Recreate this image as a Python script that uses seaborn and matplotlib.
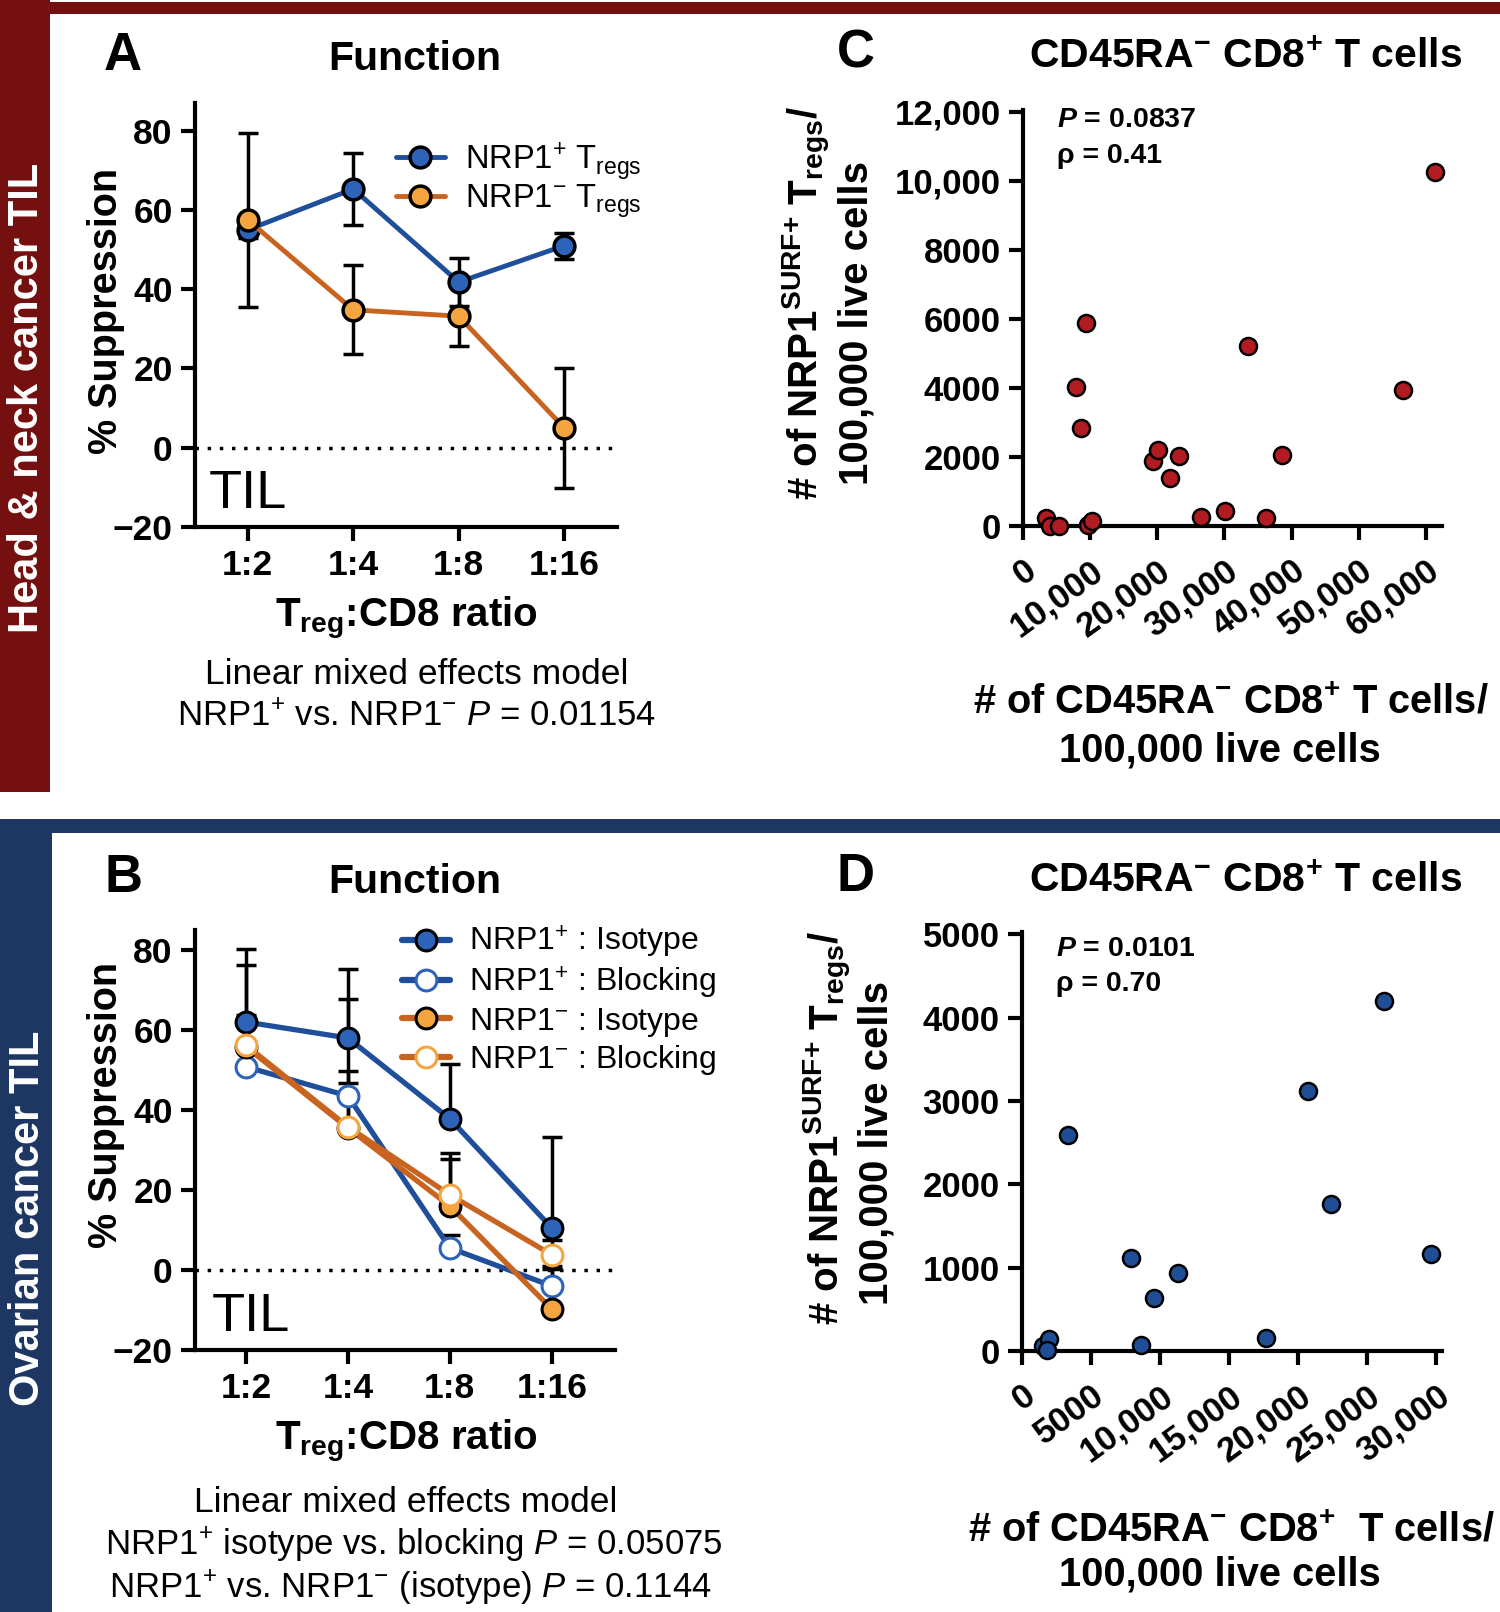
import numpy as np
import pandas as pd
import seaborn as sns
import matplotlib.pyplot as plt
from matplotlib.patches import Rectangle
from matplotlib.lines import Line2D

sns.set_theme(style="ticks")
plt.rcParams['font.family'] = ['Liberation Sans', 'DejaVu Sans']
plt.rcParams['text.color'] = 'black'
plt.rcParams['axes.labelcolor'] = 'black'
plt.rcParams['mathtext.fontset'] = 'custom'
plt.rcParams['mathtext.default'] = 'regular'
plt.rcParams['mathtext.rm'] = 'Liberation Sans'
plt.rcParams['mathtext.bf'] = 'Liberation Sans:bold'
plt.rcParams['mathtext.it'] = 'Liberation Sans:italic'
plt.rcParams['mathtext.bfit'] = 'Liberation Sans:italic:bold'

# ---- data ----
ratios = ['1:2', '1:4', '1:8', '1:16']

# panel A: head & neck TIL, mean and error
a_pos_mean = [55.0, 65.3, 41.8, 51.0]
a_pos_err = [2.0, 9.0, 6.0, 3.3]
a_neg_mean = [57.5, 34.8, 33.2, 5.0]
a_neg_err = [22.0, 11.2, 7.6, 15.1]

# panel B: ovarian TIL, mean and upper error
b_pos_iso = [62.0, 58.0, 37.8, 10.5]
b_pos_iso_err = [1.8, 17.2, 13.8, 22.8]
b_pos_blk = [50.8, 43.5, 5.5, -4.0]
b_pos_blk_err = [29.4, 24.2, 3.2, 5.0]
b_neg_iso = [55.8, 35.5, 16.0, -9.8]
b_neg_iso_err = [20.4, 11.2, 13.2, 10.0]
b_neg_blk = [56.2, 35.8, 18.8, 3.8]
b_neg_blk_err = [0.8, 14.0, 9.0, 3.8]

# panel C: head & neck scatter
c_x = [3465, 3960, 5350, 9650, 10300, 7920, 8660, 9400, 19400, 20150,
       23270, 21930, 26580, 30050, 33500, 36240, 38510, 56580, 61290]
c_y = [222, 0, 0, 29, 154, 4013, 2827, 5885, 1891, 2200,
       2036, 1380, 270, 434, 5210, 222, 2055, 3936, 10255]
c_xticks = [0, 10000, 20000, 30000, 40000, 50000, 60000]
c_xticklabels = ['0', '10,000', '20,000', '30,000', '40,000', '50,000', '60,000']
c_yticks = [0, 2000, 4000, 6000, 8000, 10000, 12000]
c_yticklabels = ['0', '2000', '4000', '6000', '8000', '10,000', '12,000']

# panel D: ovarian scatter
d_x = [1520, 1955, 1810, 3330, 7915, 8590, 9556, 11290, 17690, 20700, 22390, 26200, 29630]
d_y = [56, 148, 16, 2594, 1119, 68, 642, 942, 160, 3127, 1760, 4198, 1159]
d_xticks = [0, 5000, 10000, 15000, 20000, 25000, 30000]
d_xticklabels = ['0', '5000', '10,000', '15,000', '20,000', '25,000', '30,000']
d_yticks = [0, 1000, 2000, 3000, 4000, 5000]
d_yticklabels = ['0', '1000', '2000', '3000', '4000', '5000']

RED = '#74100f'
NAVY = '#1d3762'
BLUE_LINE = '#1f4e9b'
BLUE_FILL = '#2d64b9'
ORANGE_LINE = '#c8641f'
ORANGE_FILL = '#f5a540'

W, H = 1500, 1612
fig = plt.figure(figsize=(W / 100, H / 100), dpi=100)


def px(x, y):
    return x / W, 1 - y / H


def axes_px(left, top, right, bottom):
    return fig.add_axes([left / W, 1 - bottom / H, (right - left) / W, (bottom - top) / H])


def style_axis(ax, size=25.5, xpad=6):
    sns.despine(ax=ax)
    for s in ['left', 'bottom']:
        ax.spines[s].set_linewidth(3)
        ax.spines[s].set_color('black')
    ax.tick_params(axis='both', direction='out', length=10, width=3, colors='black',
                   labelsize=size, pad=6)
    ax.tick_params(axis='x', pad=xpad)
    for lab in ax.get_xticklabels() + ax.get_yticklabels():
        lab.set_fontweight('bold')


# ---- colour bands ----
fig.add_artist(Rectangle(px(0, 14), 1, 12 / H, transform=fig.transFigure, color=RED, lw=0))
fig.add_artist(Rectangle(px(0, 792), 50 / W, 792 / H, transform=fig.transFigure, color=RED, lw=0))
fig.add_artist(Rectangle(px(0, 833), 1, 14 / H, transform=fig.transFigure, color=NAVY, lw=0))
fig.add_artist(Rectangle(px(0, H), 52 / W, (H - 819) / H, transform=fig.transFigure, color=NAVY, lw=0))
fig.text(*px(27, 398), 'Head & neck cancer TIL', rotation=90, color='white',
         fontsize=30, fontweight='bold', ha='center', va='center')
fig.text(*px(28, 1218), 'Ovarian cancer TIL', rotation=90, color='white',
         fontsize=30, fontweight='bold', ha='center', va='center')

pos = np.arange(len(ratios))

# ---- panel A ----
axA = axes_px(195, 103, 617, 527)
axA.axhline(0, color='black', lw=2.5, ls=(0, (1, 2.5)), zorder=1)
axA.errorbar(pos, a_pos_mean, yerr=a_pos_err, fmt='none', ecolor='black',
             elinewidth=2.5, capsize=7, capthick=2.5, zorder=2)
axA.errorbar(pos, a_neg_mean, yerr=a_neg_err, fmt='none', ecolor='black',
             elinewidth=2.5, capsize=7, capthick=2.5, zorder=2)
sns.lineplot(x=pos, y=a_pos_mean, ax=axA, color=BLUE_LINE, lw=3.5, marker='o',
             markersize=15, markerfacecolor=BLUE_FILL, markeredgecolor='black',
             markeredgewidth=2.5, errorbar=None, zorder=3, clip_on=False)
sns.lineplot(x=pos, y=a_neg_mean, ax=axA, color=ORANGE_LINE, lw=3.5, marker='o',
             markersize=15, markerfacecolor=ORANGE_FILL, markeredgecolor='black',
             markeredgewidth=2.5, errorbar=None, zorder=4, clip_on=False)
axA.set_xlim(-0.5, 3.5)
axA.set_ylim(-20, 87)
axA.set_xticks(pos)
axA.set_xticklabels(ratios)
axA.set_yticks([-20, 0, 20, 40, 60, 80])
style_axis(axA)
axA.text(-0.37, -15.2, 'TIL', fontsize=39, va='baseline', ha='left')
hA = [Line2D([], [], color=BLUE_LINE, lw=3.5, marker='o', markersize=15,
             markerfacecolor=BLUE_FILL, markeredgecolor='black', markeredgewidth=2.5),
      Line2D([], [], color=ORANGE_LINE, lw=3.5, marker='o', markersize=15,
             markerfacecolor=ORANGE_FILL, markeredgecolor='black', markeredgewidth=2.5)]
axA.legend(hA, ['NRP1$^{+}$ T$_{regs}$', 'NRP1$^{-}$ T$_{regs}$'], frameon=False,
           fontsize=23.5, loc='upper left', bbox_to_anchor=px(396, 140),
           bbox_transform=fig.transFigure, handlelength=1.5, handletextpad=0.6,
           labelspacing=0.02, borderaxespad=0, borderpad=0)

fig.text(*px(123, 56), 'A', fontsize=38, fontweight='bold', ha='center', va='center')
fig.text(*px(415, 59), 'Function', fontsize=29.5, fontweight='bold', ha='center', va='center')
fig.text(*px(106, 311), '% Suppression', rotation=90, fontsize=28.5, fontweight='bold',
         ha='center', va='center')
fig.text(*px(406, 619), 'T$_{reg}$:CD8 ratio', fontsize=29, fontweight='bold',
         ha='center', va='center')
fig.text(*px(417, 674), 'Linear mixed effects model', fontsize=25.5, ha='center', va='center')
fig.text(*px(417, 717), 'NRP1$^{+}$ vs. NRP1$^{-}$ $\\mathit{P}$ = 0.01154', fontsize=25,
         ha='center', va='center')

# ---- panel B ----
axB = axes_px(195, 930, 615, 1350)
axB.axhline(0, color='black', lw=2.5, ls=(0, (1, 2.5)), zorder=1)
b_series = [
    (b_pos_iso, b_pos_iso_err, BLUE_LINE, BLUE_FILL, 'black', 'NRP1$^{+}$ : Isotype'),
    (b_pos_blk, b_pos_blk_err, BLUE_LINE, 'white', BLUE_FILL, 'NRP1$^{+}$ : Blocking'),
    (b_neg_iso, b_neg_iso_err, ORANGE_LINE, ORANGE_FILL, 'black', 'NRP1$^{-}$ : Isotype'),
    (b_neg_blk, b_neg_blk_err, ORANGE_LINE, 'white', ORANGE_FILL, 'NRP1$^{-}$ : Blocking'),
]
hB = []
for i, (vals, err, lc, fc, ec, lab) in enumerate(b_series):
    axB.errorbar(pos, vals, yerr=[np.zeros(len(err)), err], fmt='none', ecolor='black',
                 elinewidth=2.5, capsize=7, capthick=2.5, zorder=2)
    sns.lineplot(x=pos, y=vals, ax=axB, color=lc, lw=3.8, marker='o', markersize=15,
                 markerfacecolor=fc, markeredgecolor=ec, markeredgewidth=2.2,
                 errorbar=None, zorder=3 + i, clip_on=False)
    hB.append(Line2D([], [], color=lc, lw=4.5, marker='o', markersize=15,
                     markerfacecolor=fc, markeredgecolor=ec, markeredgewidth=2.2))
axB.set_xlim(-0.5, 3.62)
axB.set_ylim(-20, 85)
axB.set_xticks(pos)
axB.set_xticklabels(ratios)
axB.set_yticks([-20, 0, 20, 40, 60, 80])
style_axis(axB)
axB.text(-0.34, -15.3, 'TIL', fontsize=39, va='baseline', ha='left')
axB.legend(hB, [s[5] for s in b_series], frameon=False, fontsize=23, loc='upper left',
           bbox_to_anchor=px(402, 924), bbox_transform=fig.transFigure,
           handlelength=1.5, handletextpad=0.6, labelspacing=0.14, borderaxespad=0,
           borderpad=0)

fig.text(*px(123, 878), 'B', fontsize=38, fontweight='bold', ha='center', va='center')
fig.text(*px(415, 882), 'Function', fontsize=29.5, fontweight='bold', ha='center', va='center')
fig.text(*px(106, 1105), '% Suppression', rotation=90, fontsize=28.5, fontweight='bold',
         ha='center', va='center')
fig.text(*px(406, 1442), 'T$_{reg}$:CD8 ratio', fontsize=29, fontweight='bold',
         ha='center', va='center')
fig.text(*px(406, 1502), 'Linear mixed effects model', fontsize=25.5, ha='center', va='center')
fig.text(*px(414, 1545), 'NRP1$^{+}$ isotype vs. blocking $\\mathit{P}$ = 0.05075',
         fontsize=25, ha='center', va='center')
fig.text(*px(410, 1588), 'NRP1$^{+}$ vs. NRP1$^{-}$ (isotype) $\\mathit{P}$ = 0.1144',
         fontsize=25, ha='center', va='center')

# ---- panel C ----
axC = axes_px(1023, 110, 1442, 526)
sns.scatterplot(x=c_x, y=c_y, ax=axC, color='#b01c22', edgecolor='black', linewidth=1.8,
                s=150, clip_on=False, zorder=3)
axC.set_xlim(0, 62400)
axC.set_ylim(0, 12050)
axC.set_xticks(c_xticks)
axC.set_xticklabels(c_xticklabels, rotation=36, ha='right', rotation_mode='anchor')
axC.set_yticks(c_yticks)
axC.set_yticklabels(c_yticklabels)
style_axis(axC, size=25, xpad=10)
axC.text(0.08, 0.975, '$\\mathbfit{P}$ = 0.0837', transform=axC.transAxes, fontsize=20.5,
         fontweight='bold', ha='left', va='center')
axC.text(0.08, 0.89, 'ρ = 0.41', transform=axC.transAxes, fontsize=20.5,
         fontweight='bold', ha='left', va='center')

fig.text(*px(856, 53), 'C', fontsize=38, fontweight='bold', ha='center', va='center')
fig.text(*px(1246, 57), 'CD45RA$^{-}$ CD8$^{+}$ T cells', fontsize=29.5, fontweight='bold',
         ha='center', va='center')
fig.text(*px(807, 303), '# of NRP1$^{SURF{+}}$ T$_{regs}$/', rotation=90, fontsize=29,
         fontweight='bold', ha='center', va='center')
fig.text(*px(856, 323), '100,000 live cells', rotation=90, fontsize=29,
         fontweight='bold', ha='center', va='center')
fig.text(*px(1231, 703), '# of CD45RA$^{-}$ CD8$^{+}$ T cells/', fontsize=28.7,
         fontweight='bold', ha='center', va='center')
fig.text(*px(1220, 750), '100,000 live cells', fontsize=28.7, fontweight='bold',
         ha='center', va='center')

# ---- panel D ----
axD = axes_px(1022, 932, 1442, 1351)
sns.scatterplot(x=d_x, y=d_y, ax=axD, color='#1f4e96', edgecolor='black', linewidth=1.8,
                s=150, clip_on=False, zorder=3)
axD.set_xlim(0, 30400)
axD.set_ylim(0, 5030)
axD.set_xticks(d_xticks)
axD.set_xticklabels(d_xticklabels, rotation=36, ha='right', rotation_mode='anchor')
axD.set_yticks(d_yticks)
axD.set_yticklabels(d_yticklabels)
style_axis(axD, size=25, xpad=10)
axD.text(0.08, 0.96, '$\\mathbfit{P}$ = 0.0101', transform=axD.transAxes, fontsize=20.5,
         fontweight='bold', ha='left', va='center')
axD.text(0.08, 0.875, 'ρ = 0.70', transform=axD.transAxes, fontsize=20.5,
         fontweight='bold', ha='left', va='center')

fig.text(*px(856, 877), 'D', fontsize=38, fontweight='bold', ha='center', va='center')
fig.text(*px(1246, 881), 'CD45RA$^{-}$ CD8$^{+}$ T cells', fontsize=29.5, fontweight='bold',
         ha='center', va='center')
fig.text(*px(828, 1128), '# of NRP1$^{SURF{+}}$ T$_{regs}$/', rotation=90, fontsize=29,
         fontweight='bold', ha='center', va='center')
fig.text(*px(877, 1143), '100,000 live cells', rotation=90, fontsize=29,
         fontweight='bold', ha='center', va='center')
fig.text(*px(1231, 1530), '# of CD45RA$^{-}$ CD8$^{+}$  T cells/', fontsize=28.7,
         fontweight='bold', ha='center', va='center')
fig.text(*px(1220, 1575), '100,000 live cells', fontsize=28.7, fontweight='bold',
         ha='center', va='center')

fig.savefig('out.png', dpi=100, facecolor='white')
